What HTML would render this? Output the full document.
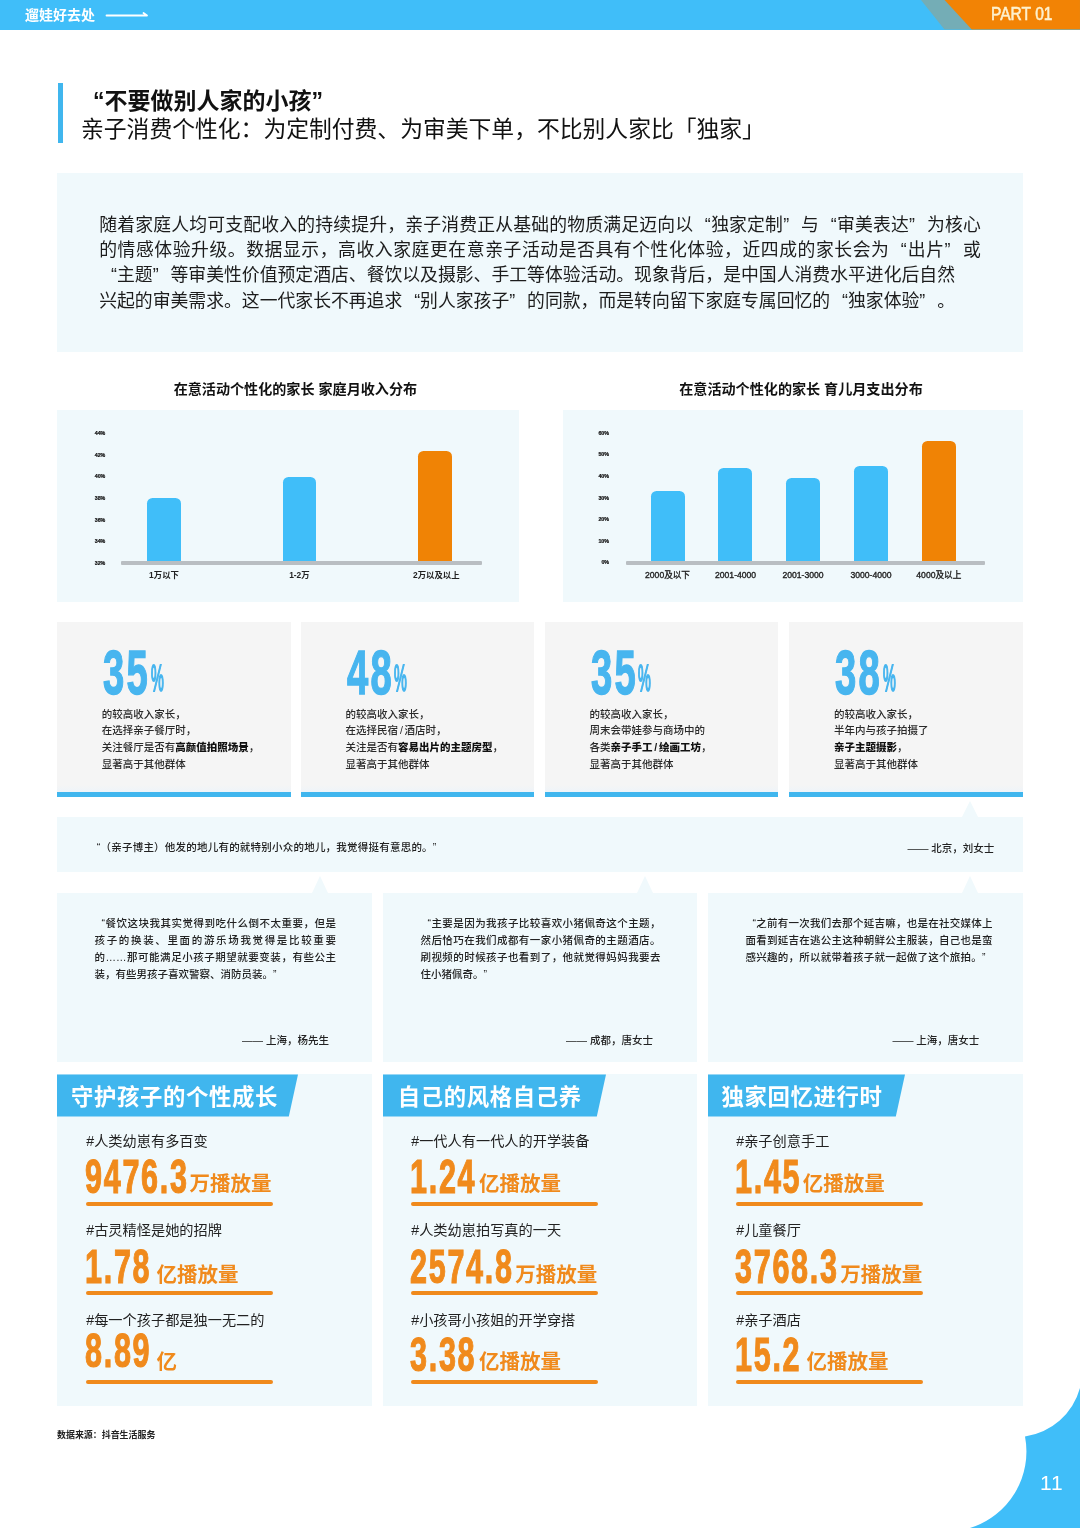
<!DOCTYPE html>
<html lang="zh-CN">
<head>
<meta charset="utf-8">
<title>遛娃好去处 PART 01</title>
<style>
*{box-sizing:border-box;margin:0;padding:0}
html,body{width:1080px;height:1528px;background:#fff;overflow:hidden}
body{position:relative;text-spacing-trim:space-all;font-family:"Liberation Sans","Noto Sans CJK SC",sans-serif;color:#1a1a1a}
.abs{position:absolute}
.nw{white-space:nowrap}
/* header */
#hdr{left:0;top:0;width:1080px;height:29.6px;background:#40bef9}
#hdr-t{left:25px;top:4px;font-size:14px;line-height:22px;font-weight:700;color:#fff;letter-spacing:0}
/* title */
#tbar{left:58px;top:83px;width:5px;height:60px;background:#40b6ee}
#t1{left:93px;top:85.5px;font-size:23px;line-height:30px;font-weight:700;color:#111}
#t2{left:81px;top:112.6px;font-size:22.8px;line-height:32px;font-weight:400;color:#111}
/* intro */
#intro{left:57px;top:173px;width:966px;height:179.4px;background:#f0f9fc}
#intro p{position:absolute;left:42.2px;top:39.5px;font-size:17.83px;line-height:25.45px;color:#1c1c1c;white-space:nowrap}
.ln{display:block;letter-spacing:var(--ls)}
.ln .q{margin-right:var(--ls)}
.q{display:inline-block;width:1em}
.ql{text-align:right;text-align-last:right}
.qr{text-align:left;text-align-last:left}
/* charts */
.ctitle{font-size:14.1px;line-height:20px;font-weight:700;color:#111;white-space:nowrap;text-align:center}
.cbox{background:#f0f9fc}
.yl{position:absolute;font-size:5.3px;line-height:8px;font-weight:700;color:#111;-webkit-text-stroke:.2px #111;white-space:nowrap}
.xl{position:absolute;font-size:8.4px;line-height:12px;font-weight:700;color:#222;white-space:nowrap;text-align:center;width:80px}
.xl.m{font-weight:400;font-size:8.6px;-webkit-text-stroke:.35px #222}
.bar{position:absolute;background:#40bef9;border-radius:5.5px 5.5px 0 0}
.bar.o{background:#f08305}
.axis{position:absolute;height:3.5px;background:#b9bec2;border-radius:1px}
/* cards */
.card{position:absolute;top:622px;width:233.5px;height:175.3px;background:linear-gradient(#f5f5f5 0,#f5f5f5 163px,#eef4f9 170px);border-bottom:5.3px solid #40b6ee}
.card .num{position:absolute;left:46px;top:18.7px;font-size:62.6px;line-height:62.6px;font-weight:700;color:#47b5ef;white-space:nowrap;transform:scaleX(.61);transform-origin:0 0;-webkit-text-stroke:1.4px #47b5ef;letter-spacing:3.9px}
.card .pct{position:absolute;left:93.5px;top:39.2px;font-size:36px;line-height:36px;font-weight:400;color:#47b5ef;transform:scaleX(.40);transform-origin:0 0;-webkit-text-stroke:2px #47b5ef}
.card p{position:absolute;left:44.8px;top:83.5px;font-size:10.5px;line-height:16.7px;color:#2a2a2a;font-weight:500;white-space:nowrap}
.sl{padding:0 1.8px}
.card b{font-weight:900;color:#111}
/* quotes */
.qbox{position:absolute;background:#f0f9fc}
.qt{position:absolute;font-size:10.5px;line-height:16.83px;color:#222;font-weight:500}
.qt i{font-style:normal;display:block;text-align:justify;text-align-last:justify;white-space:nowrap}
.qt i.l{text-align-last:left}
.qt .q{width:1em}
.tri{position:absolute;width:0;height:0;border-left:8.7px solid transparent;border-right:8.7px solid transparent;border-bottom:17.5px solid #f0f9fc}
/* bottom panels */
.panel{position:absolute;top:1074px;width:315px;height:331.5px;background:#f0f9fc}
.tag{position:absolute;left:0;top:0;height:42px}
.tag span{position:absolute;left:14px;top:8.2px;font-size:22.4px;line-height:32px;font-weight:700;color:#fff;white-space:nowrap;letter-spacing:.6px}
.lab{position:absolute;font-size:14.2px;line-height:20px;color:#222;white-space:nowrap}
.big{position:absolute;font-size:48.5px;line-height:48.5px;font-weight:700;color:#f08a1c;white-space:nowrap;transform:scaleX(.63);transform-origin:0 0;letter-spacing:2.7px;-webkit-text-stroke:1.2px #f08a1c}
.unit{position:absolute;font-size:20.5px;line-height:26px;font-weight:700;color:#f08a1c;white-space:nowrap}
.ul{position:absolute;height:4px;width:186.4px;background:#f08a1c;border-radius:2px}
#src{left:57px;top:1429.2px;font-size:8.95px;line-height:12px;font-weight:700;color:#222}
#pg{left:1040px;top:1470px;font-size:21px;line-height:26px;color:#fff;font-weight:400;letter-spacing:1px}
</style>
</head>
<body>
<!-- HEADER -->
<div id="hdr" class="abs"></div>
<svg class="abs" style="left:900px;top:0" width="180" height="29.6" viewBox="0 0 180 29.6">
  <polygon points="21,0 44.5,0 71.7,29.6 44.5,29.6" fill="#74adb6"/>
  <polygon points="44.5,0 180,0 180,29.6 71.7,29.6" fill="#f28305"/>
</svg>
<div id="hdr-t" class="abs nw">遛娃好去处</div>
<svg class="abs" style="left:104px;top:8px" width="48" height="14" viewBox="0 0 48 14">
  <path d="M2.5 7.5 H43 L39.5 5" fill="none" stroke="#fff" stroke-width="1.8" stroke-linecap="round" stroke-linejoin="round"/>
</svg>
<div class="abs nw" id="part" style="left:991px;top:3px;font-size:17.6px;line-height:22px;color:#fdf1cf;font-weight:400;-webkit-text-stroke:.55px #fdf1cf;transform:scaleX(.885);transform-origin:0 0">PART 01</div>

<!-- TITLE -->
<div id="tbar" class="abs"></div>
<div id="t1" class="abs nw">“不要做别人家的小孩”</div>
<div id="t2" class="abs nw">亲子消费个性化：为定制付费、为审美下单，不比别人家比「独家」</div>

<!-- INTRO -->
<div id="intro" class="abs">
<p><span class="ln" style="--ls:.17px">随着家庭人均可支配收入的持续提升，亲子消费正从基础的物质满足迈向以<span class="q ql">“</span>独家定制<span class="q qr">”</span>与<span class="q ql">“</span>审美表达<span class="q qr">”</span>为核心</span><span class="ln" style="--ls:.55px">的情感体验升级。数据显示，高收入家庭更在意亲子活动是否具有个性化体验，近四成的家长会为<span class="q ql">“</span>出片<span class="q qr">”</span>或</span><span class="ln" style="--ls:0px"><span class="q ql">“</span>主题<span class="q qr">”</span>等审美性价值预定酒店、餐饮以及摄影、手工等体验活动。现象背后，是中国人消费水平进化后自然</span><span class="ln" style="--ls:0px">兴起的审美需求。这一代家长不再追求<span class="q ql">“</span>别人家孩子<span class="q qr">”</span>的同款，而是转向留下家庭专属回忆的<span class="q ql">“</span>独家体验<span class="q qr">”</span>。</span></p>
</div>

<!-- CHARTS -->
<div class="abs ctitle" style="left:95.4px;top:379.2px;width:400px">在意活动个性化的家长 家庭月收入分布</div>
<div class="abs ctitle" style="left:601px;top:379.2px;width:400px">在意活动个性化的家长 育儿月支出分布</div>
<div class="abs cbox" style="left:57px;top:410px;width:462px;height:192px"></div>
<div class="abs cbox" style="left:562.5px;top:410px;width:460.5px;height:192px"></div>
<div class="abs" id="c1" style="left:0;top:0;width:0;height:0">
<span class="yl" style="left:94.7px;top:429.0px">44%</span>
<span class="yl" style="left:94.7px;top:450.6px">42%</span>
<span class="yl" style="left:94.7px;top:472.3px">40%</span>
<span class="yl" style="left:94.7px;top:493.9px">38%</span>
<span class="yl" style="left:94.7px;top:515.5px">36%</span>
<span class="yl" style="left:94.7px;top:537.1px">34%</span>
<span class="yl" style="left:94.7px;top:558.8px">32%</span>
<div class="bar" style="left:147px;top:498px;width:33.8px;height:64.5px"></div>
<div class="bar" style="left:282.5px;top:477.2px;width:33.8px;height:85.3px"></div>
<div class="bar o" style="left:418.1px;top:451.2px;width:33.8px;height:111.3px"></div>
<div class="axis" style="left:121.3px;top:561.2px;width:360.4px"></div>
<span class="xl" style="left:124px;top:569.4px">1万以下</span>
<span class="xl" style="left:259.4px;top:569.4px">1-2万</span>
<span class="xl" style="left:396.3px;top:569.4px">2万以及以上</span>
</div>
<div class="abs" id="c2" style="left:0;top:0;width:0;height:0">
<span class="yl" style="left:598.4px;top:428.8px">60%</span>
<span class="yl" style="left:598.4px;top:450.4px">50%</span>
<span class="yl" style="left:598.4px;top:472.0px">40%</span>
<span class="yl" style="left:598.4px;top:493.5px">30%</span>
<span class="yl" style="left:598.4px;top:515.1px">20%</span>
<span class="yl" style="left:598.4px;top:536.7px">10%</span>
<span class="yl" style="left:601.4px;top:558.3px">0%</span>
<div class="bar" style="left:650.8px;top:491px;width:33.8px;height:71.5px"></div>
<div class="bar" style="left:718.4px;top:467.7px;width:33.8px;height:94.8px"></div>
<div class="bar" style="left:786px;top:477.9px;width:33.8px;height:84.6px"></div>
<div class="bar" style="left:854.4px;top:466.1px;width:33.8px;height:96.4px"></div>
<div class="bar o" style="left:921.8px;top:441px;width:33.8px;height:121.5px"></div>
<div class="axis" style="left:625.6px;top:561.2px;width:359.5px"></div>
<span class="xl m" style="left:627.5px;top:569.4px">2000及以下</span>
<span class="xl m" style="left:695.6px;top:569.4px">2001-4000</span>
<span class="xl m" style="left:763px;top:569.4px">2001-3000</span>
<span class="xl m" style="left:831px;top:569.4px">3000-4000</span>
<span class="xl m" style="left:898.8px;top:569.4px">4000及以上</span>
</div>

<!-- CARDS -->
<div class="card" style="left:57px"><span class="num">35</span><span class="pct">%</span>
<p>的较高收入家长，<br>在选择亲子餐厅时，<br>关注餐厅是否有<b>高颜值拍照场景</b>，<br>显著高于其他群体</p></div>
<div class="card" style="left:300.8px"><span class="num">48</span><span class="pct">%</span>
<p>的较高收入家长，<br>在选择民宿<span class="sl">/</span>酒店时，<br>关注是否有<b>容易出片的主题房型</b>，<br>显著高于其他群体</p></div>
<div class="card" style="left:544.6px"><span class="num">35</span><span class="pct">%</span>
<p>的较高收入家长，<br>周末会带娃参与商场中的<br>各类<b>亲子手工<span class="sl">/</span>绘画工坊</b>，<br>显著高于其他群体</p></div>
<div class="card" style="left:789.2px"><span class="num">38</span><span class="pct">%</span>
<p>的较高收入家长，<br>半年内与孩子拍摄了<br><b>亲子主题摄影</b>，<br>显著高于其他群体</p></div>

<!-- QUOTES -->
<div class="tri" style="left:962.3px;top:800.7px;border-bottom-width:16.3px"></div>
<div class="qbox" style="left:57px;top:816.8px;width:966.3px;height:55px">
  <div class="qt nw" style="left:33px;top:22.6px;letter-spacing:.22px"><span class="q ql">“</span>（亲子博主）他发的地儿有的就特别小众的地儿，我觉得挺有意思的。”</div>
  <div class="qt nw" style="right:29px;top:22.9px">—— 北京，刘女士</div>
</div>
<div class="tri" style="left:312.3px;top:876px"></div>
<div class="tri" style="left:637.3px;top:876px"></div>
<div class="tri" style="left:962.3px;top:876px"></div>
<div class="qbox" style="left:57px;top:893.4px;width:315px;height:168.8px">
  <div class="qt" style="left:37.5px;top:21.9px;width:241.5px"><i><span class="q ql">“</span>餐饮这块我其实觉得到吃什么倒不太重要，但是</i><i>孩子的换装、里面的游乐场我觉得是比较重要</i><i>的……那可能满足小孩子期望就要变装，有些公主</i><i class="l">装，有些男孩子喜欢警察、消防员装。”</i></div>
  <div class="qt nw" style="right:43px;top:138.2px">—— 上海，杨先生</div>
</div>
<div class="qbox" style="left:382.5px;top:893.4px;width:314.5px;height:168.8px">
  <div class="qt" style="left:38px;top:21.9px;width:240px"><i><span class="q ql">“</span>主要是因为我孩子比较喜欢小猪佩奇这个主题，</i><i>然后恰巧在我们成都有一家小猪佩奇的主题酒店。</i><i>刷视频的时候孩子也看到了，他就觉得妈妈我要去</i><i class="l">住小猪佩奇。”</i></div>
  <div class="qt nw" style="right:44px;top:138.2px">—— 成都，唐女士</div>
</div>
<div class="qbox" style="left:707.5px;top:893.4px;width:315.8px;height:168.8px">
  <div class="qt" style="left:38px;top:21.9px;width:247px"><i><span class="q ql">“</span>之前有一次我们去那个延吉嘛，也是在社交媒体上</i><i>面看到延吉在逃公主这种朝鲜公主服装，自己也是蛮</i><i>感兴趣的，所以就带着孩子就一起做了这个旅拍。<span class="q qr">”</span></i></div>
  <div class="qt nw" style="right:44px;top:138.2px">—— 上海，唐女士</div>
</div>

<!-- PANELS -->
<div class="panel" style="left:57px;width:315px">
  <svg class="abs" style="left:0;top:0" width="260" height="43"><polygon points="0,0.5 241,0.5 231.8,42.4 0,42.4" fill="#40b6ee"/></svg>
  <div class="tag"><span style="left:14px">守护孩子的个性成长</span></div>
  <div class="lab" style="left:29.3px;top:57px">#人类幼崽有多百变</div>
  <div class="big" style="left:28.3px;top:77.7px">9476.3</div><div class="unit" style="left:132.4px;top:97.1px">万播放量</div>
  <div class="ul" style="left:29.3px;top:127.7px"></div>
  <div class="lab" style="left:29.3px;top:146.3px">#古灵精怪是她的招牌</div>
  <div class="big" style="left:28.3px;top:168.0px">1.78</div><div class="unit" style="left:99.4px;top:187.6px">亿播放量</div>
  <div class="ul" style="left:29.3px;top:217.4px"></div>
  <div class="lab" style="left:29.3px;top:236.3px">#每一个孩子都是独一无二的</div>
  <div class="big" style="left:28.3px;top:251.7px">8.89</div><div class="unit" style="left:99.4px;top:275.4px">亿</div>
  <div class="ul" style="left:29.3px;top:305.6px"></div>
</div>
<div class="panel" style="left:382.5px;width:314.5px">
  <svg class="abs" style="left:0;top:0" width="260" height="43"><polygon points="0,0.5 223.0,0.5 213.8,42.4 0,42.4" fill="#40b6ee"/></svg>
  <div class="tag"><span style="left:15.3px">自己的风格自己养</span></div>
  <div class="lab" style="left:28.8px;top:57px">#一代人有一代人的开学装备</div>
  <div class="big" style="left:27.8px;top:77.7px">1.24</div><div class="unit" style="left:96.4px;top:97.1px">亿播放量</div>
  <div class="ul" style="left:28.8px;top:127.7px"></div>
  <div class="lab" style="left:28.8px;top:146.3px">#人类幼崽拍写真的一天</div>
  <div class="big" style="left:27.8px;top:168.0px">2574.8</div><div class="unit" style="left:132.7px;top:187.6px">万播放量</div>
  <div class="ul" style="left:28.8px;top:217.4px"></div>
  <div class="lab" style="left:28.8px;top:236.3px">#小孩哥小孩姐的开学穿搭</div>
  <div class="big" style="left:27.8px;top:255.5px">3.38</div><div class="unit" style="left:96.4px;top:275.4px">亿播放量</div>
  <div class="ul" style="left:28.8px;top:305.6px"></div>
</div>
<div class="panel" style="left:707.5px;width:315.5px">
  <svg class="abs" style="left:0;top:0" width="260" height="43"><polygon points="0,0.5 197.0,0.5 187.8,42.4 0,42.4" fill="#40b6ee"/></svg>
  <div class="tag"><span style="left:14.0px">独家回忆进行时</span></div>
  <div class="lab" style="left:28.8px;top:57px">#亲子创意手工</div>
  <div class="big" style="left:27.8px;top:77.7px">1.45</div><div class="unit" style="left:95.2px;top:97.1px">亿播放量</div>
  <div class="ul" style="left:28.8px;top:127.7px"></div>
  <div class="lab" style="left:28.8px;top:146.3px">#儿童餐厅</div>
  <div class="big" style="left:27.8px;top:168.0px">3768.3</div><div class="unit" style="left:132.7px;top:187.6px">万播放量</div>
  <div class="ul" style="left:28.8px;top:217.4px"></div>
  <div class="lab" style="left:28.8px;top:236.3px">#亲子酒店</div>
  <div class="big" style="left:27.8px;top:255.5px">15.2</div><div class="unit" style="left:98.9px;top:275.4px">亿播放量</div>
  <div class="ul" style="left:28.8px;top:305.6px"></div>
</div>

<!-- FOOTER -->
<div id="src" class="abs nw">数据来源：抖音生活服务</div>
<svg class="abs" style="left:940px;top:1370px" width="140" height="158" viewBox="940 1370 140 158">
  <path d="M1080 1388 A67 67 0 0 1 1025 1436.5 A80 80 0 0 1 970 1528 L1080 1528 Z" fill="#40bef9"/>
</svg>
<div id="pg" class="abs nw">11</div>
</body>
</html>
